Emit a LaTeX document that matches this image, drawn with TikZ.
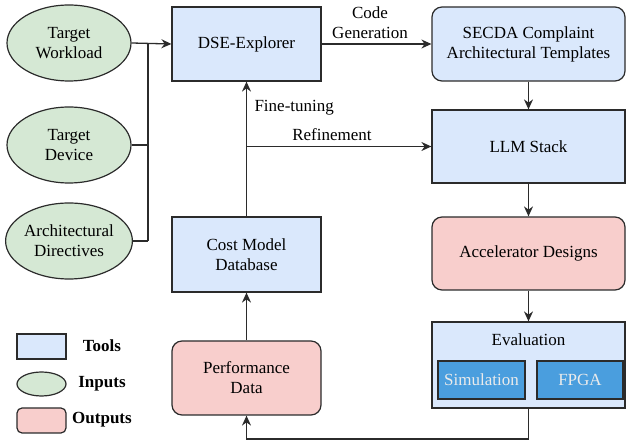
\documentclass[tikz,border=0pt]{standalone}
\usepackage{fontspec}
\setmainfont{Liberation Serif}
\usetikzlibrary{positioning, arrows.meta, shapes.geometric}

\definecolor{toolblue}{HTML}{DAE8FC}
\definecolor{inputgreen}{HTML}{D5E8D4}
\definecolor{outputpink}{HTML}{F8CECC}
\definecolor{hwblue}{HTML}{4A9EDE}
\definecolor{edge}{HTML}{2B2B2B}

\begin{document}
\begin{tikzpicture}[x=1pt, y=-1pt,
    every node/.style={font=\fontsize{17}{20}\selectfont},
    % Styles
    tool/.style={draw=edge, fill=toolblue, line width=1.2pt, align=center, minimum width=149pt, minimum height=74pt},
    tool-wide/.style={tool, minimum width=193pt},
    tool-round/.style={tool-wide, rounded corners=10pt},
    input/.style={draw=edge, fill=inputgreen, line width=1.2pt, ellipse, align=center, minimum width=124pt, minimum height=76pt, inner sep=0pt},
    output/.style={draw=edge, fill=outputpink, line width=1.2pt, rounded corners=10pt, align=center, minimum height=74pt},
    hw/.style={draw=edge, fill=hwblue, line width=1.2pt, text=white!92!black, minimum height=38pt, inner sep=1pt},
    flow-arrow/.style={-{Stealth[length=10pt, width=9pt]}, line width=1.3pt, edge},
    flow-line/.style={line width=1.3pt, edge},
    legend/.style={draw=edge, line width=1.2pt, minimum width=49pt, minimum height=25pt, inner sep=0pt},
    legend-text/.style={font=\fontsize{17}{20}\selectfont\bfseries},
]
\useasboundingbox (0,0) rectangle (627,443);

% Inputs
\node[input] (workload) at (69,43) {Target\\Workload};
\node[input] (device) at (69,145) {Target\\Device};
\node[input] (directives) at (69,241) {Architectural\\Directives};

% Tools column
\node[tool] (dse) at (246.5,44) {DSE-Explorer};
\node[tool, minimum height=75pt] (costdb) at (246.5,254.5) {Cost Model\\Database};
\node[output, minimum width=149pt] (perf) at (246.5,378) {Performance\\Data};

% Right column
\node[tool-round] (secda) at (528.5,44) {SECDA Complaint\\Architectural Templates};
\node[tool-wide, minimum height=73pt] (llm) at (528.5,146.5) {LLM Stack};
\node[output, minimum width=193pt, minimum height=73pt] (accel) at (528.5,253.5) {Accelerator Designs};
\node[tool-wide, minimum height=86pt] (eval) at (528.5,365) {};
\node (evaltitle) at (528.5,340) {Evaluation};
\node[hw, minimum width=87pt] (sim) at (481.5,380) {Simulation};
\node[hw, minimum width=86pt] (fpga) at (580,380) {FPGA};

% Input bus
\coordinate (bus) at (148,43);
\draw[flow-arrow] (workload.east) -- (dse.west);
\draw[flow-line] (device.east) -- (device.east -| bus);
\draw[flow-line] (directives.east) -- (directives.east -| bus);
\draw[flow-line] (bus) -- (bus |- directives.east);

% Main flow
\draw[flow-arrow] (dse.east |- secda.west) -- (secda.west);
\node[align=center] (codegen) at (370,23) {Code\\Generation};
\draw[flow-arrow] (secda) -- (llm);
\draw[flow-arrow] (llm) -- (accel);
\draw[flow-arrow] (accel) -- (eval);
\draw[flow-arrow] (perf) -- (costdb);
\draw[flow-arrow] (costdb) -- (dse);
\coordinate (split) at (costdb.north |- llm.west);
\draw[flow-arrow] (split) -- (llm.west);
\node[anchor=west] (finetune) at (251,108) {Fine-tuning};
\node (refine) at (332,135) {Refinement};

% Feedback from evaluation
\coordinate (back) at (528.5,439);
\draw[flow-arrow] (eval.south) -- (back) -| (perf.south);

% Legend
\node[legend, fill=toolblue] (leg-tool) at (41.5,346.5) {};
\node[legend, ellipse, fill=inputgreen, minimum height=24pt] (leg-input) at (41.5,384) {};
\node[legend, fill=outputpink, rounded corners=5pt] (leg-output) at (41.5,420.5) {};
\node[legend-text] (leg-tool-txt) at (102,346) {Tools};
\node[legend-text] (leg-input-txt) at (102,384) {Inputs};
\node[legend-text] (leg-output-txt) at (102,420) {Outputs};

\end{tikzpicture}
\end{document}
